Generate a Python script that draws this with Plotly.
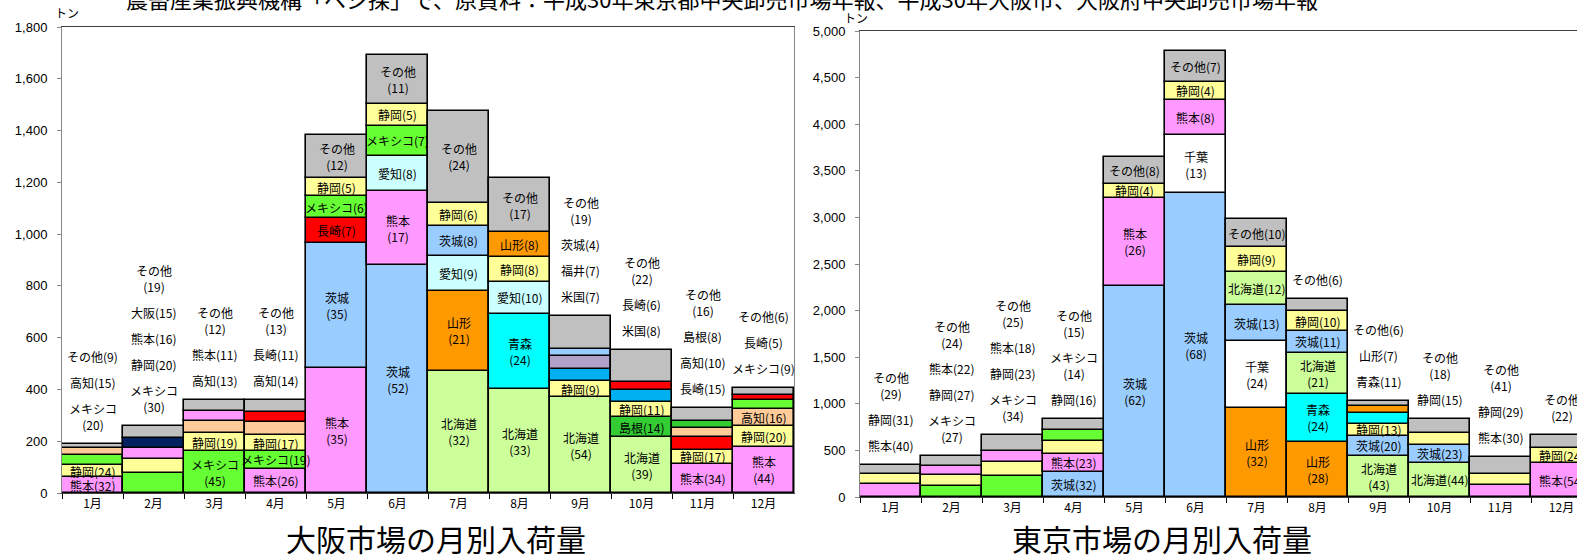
import plotly.graph_objects as go

W, H = 1577, 555

months = ["1月", "2月", "3月", "4月", "5月", "6月", "7月", "8月", "9月", "10月", "11月", "12月"]

origin_colors = {
    "熊本": "#FF99FF", "静岡": "#FFFF99", "メキシコ": "#66FF33", "高知": "#FFCC99",
    "その他": "#C0C0C0", "大阪": "#002060", "長崎": "#FF0000", "茨城": "#99CCFF",
    "愛知": "#CCFFFF", "北海道": "#CCFF99", "山形": "#FF9900", "青森": "#00FFFF",
    "米国": "#00B0F0", "福井": "#B1A0C7", "島根": "#33CC33", "千葉": "#FFFFFF",
}

# ---- Osaka market (tonnes, stacked bottom -> top) ----
osaka_origins = [
    ["熊本", "静岡", "メキシコ", "高知", "その他"],
    ["メキシコ", "静岡", "熊本", "大阪", "その他"],
    ["メキシコ", "静岡", "高知", "熊本", "その他"],
    ["熊本", "メキシコ", "静岡", "高知", "長崎", "その他"],
    ["熊本", "茨城", "長崎", "メキシコ", "静岡", "その他"],
    ["茨城", "熊本", "愛知", "メキシコ", "静岡", "その他"],
    ["北海道", "山形", "愛知", "茨城", "静岡", "その他"],
    ["北海道", "青森", "愛知", "静岡", "山形", "その他"],
    ["北海道", "静岡", "米国", "福井", "茨城", "その他"],
    ["北海道", "島根", "静岡", "米国", "長崎", "その他"],
    ["熊本", "静岡", "長崎", "高知", "島根", "その他"],
    ["熊本", "静岡", "高知", "メキシコ", "長崎", "その他"],
]
osaka_tonnes = [
    [61, 46, 38, 28, 17],
    [78, 52, 42, 39, 49],
    [162, 68, 47, 40, 43],
    [94, 68, 61, 50, 40, 47],
    [483, 483, 97, 83, 69, 166],
    [879, 287, 135, 118, 85, 186],
    [472, 310, 133, 118, 89, 354],
    [401, 292, 122, 97, 97, 206],
    [370, 62, 48, 48, 27, 130],
    [215, 77, 61, 44, 33, 121],
    [112, 56, 50, 33, 26, 53],
    [178, 81, 65, 36, 20, 24],
]
osaka_shares = [
    [32, 24, 20, 15, 9],
    [30, 20, 16, 15, 19],
    [45, 19, 13, 11, 12],
    [26, 19, 17, 14, 11, 13],
    [35, 35, 7, 6, 5, 12],
    [52, 17, 8, 7, 5, 11],
    [32, 21, 9, 8, 6, 24],
    [33, 24, 10, 8, 8, 17],
    [54, 9, 7, 7, 4, 19],
    [39, 14, 11, 8, 6, 22],
    [34, 17, 15, 10, 8, 16],
    [44, 20, 16, 9, 5, 6],
]
osaka_inside = [2, 0, 2, 3, 6, 6, 6, 6, 2, 3, 2, 3]

# ---- Tokyo market ----
tokyo_origins = [
    ["熊本", "静岡", "その他"],
    ["メキシコ", "静岡", "熊本", "その他"],
    ["メキシコ", "静岡", "熊本", "その他"],
    ["茨城", "熊本", "静岡", "メキシコ", "その他"],
    ["茨城", "熊本", "静岡", "その他"],
    ["茨城", "千葉", "熊本", "静岡", "その他"],
    ["山形", "千葉", "茨城", "北海道", "静岡", "その他"],
    ["山形", "青森", "北海道", "茨城", "静岡", "その他"],
    ["北海道", "茨城", "静岡", "青森", "山形", "その他"],
    ["北海道", "茨城", "静岡", "その他"],
    ["熊本", "静岡", "その他"],
    ["熊本", "静岡", "その他"],
]
tokyo_tonnes = [
    [138, 107, 100],
    [120, 120, 97, 106],
    [225, 152, 119, 166],
    [269, 193, 134, 118, 126],
    [2263, 949, 146, 292],
    [3257, 623, 383, 192, 335],
    [954, 715, 387, 358, 268, 298],
    [594, 509, 445, 233, 212, 127],
    [445, 207, 135, 114, 72, 62],
    [367, 192, 125, 150],
    [128, 123, 174],
    [362, 161, 147],
]
tokyo_shares = [
    [40, 31, 29],
    [27, 27, 22, 24],
    [34, 23, 18, 25],
    [32, 23, 16, 14, 15],
    [62, 26, 4, 8],
    [68, 13, 8, 4, 7],
    [32, 24, 13, 12, 9, 10],
    [28, 24, 21, 11, 10, 6],
    [43, 20, 13, 11, 7, 6],
    [44, 23, 15, 18],
    [30, 29, 41],
    [54, 24, 22],
]
tokyo_inside = [0, 0, 0, 2, 4, 5, 6, 5, 3, 2, 0, 2]

osaka_ymax, tokyo_ymax = 1800, 5000

# plot-area geometry (pixels)
OS_L, OS_R, OS_T, OS_B = 62, 794, 27, 493
TK_L, TK_T, TK_B = 860, 31, 497
TK_BAR = (OS_R - OS_L) / 12.0

CJK = "Noto Sans CJK JP"
LBL = dict(family=CJK, size=12, color="black")

fig = go.Figure()


def add_market(origins, tonnes, shares, inside, xa, ya, px_per_t):
    nlayers = max(len(o) for o in origins)
    for k in range(nlayers):
        xs, ys, bs, cs = [], [], [], []
        for m in range(12):
            if k < len(origins[m]):
                xs.append(months[m])
                ys.append(tonnes[m][k])
                bs.append(sum(tonnes[m][:k]))
                cs.append(origin_colors[origins[m][k]])
        fig.add_trace(go.Bar(
            x=xs, y=ys, base=bs, xaxis=xa, yaxis=ya, showlegend=False,
            hoverinfo="skip",
            marker=dict(color=cs, line=dict(color="black", width=1.6)),
        ))
    for m in range(12):
        total = sum(tonnes[m])
        cursor = 9
        for k, (o, v, s) in enumerate(zip(origins[m], tonnes[m], shares[m])):
            if k < inside[m]:
                two = v * px_per_t > 39
                text = f"{o}<br>({s})" if two else f"{o}({s})"
                fig.add_annotation(x=months[m], y=sum(tonnes[m][:k]) + v / 2,
                                   xref=xa, yref=ya, text=text, showarrow=False,
                                   xanchor="center", yanchor="middle", font=LBL)
            else:
                two = len(o) >= 3 and s >= 10
                text = f"{o}<br>({s})" if two else f"{o}({s})"
                fig.add_annotation(x=months[m], y=total, xref=xa, yref=ya,
                                   text=text, showarrow=False, xanchor="center",
                                   yanchor="bottom", yshift=cursor, font=LBL)
                cursor += (2 if two else 1) * 16 + 10


add_market(osaka_origins, osaka_tonnes, osaka_shares, osaka_inside, "x", "y",
           (OS_B - OS_T) / osaka_ymax)
add_market(tokyo_origins, tokyo_tonnes, tokyo_shares, tokyo_inside, "x2", "y2",
           (TK_B - TK_T) / tokyo_ymax)

tk_right = 11.5 - ((TK_L + 12 * TK_BAR) - W) / TK_BAR

xcommon = dict(type="category", tickson="boundaries", ticks="outside", ticklen=5,
               tickcolor="black", showline=True, linecolor="#404040", linewidth=1,
               showgrid=False, automargin=False,
               tickfont=dict(family=CJK, size=12, color="black"), fixedrange=True)
ycommon = dict(ticks="outside", ticklen=4, tickcolor="#868686", showline=True,
               linecolor="#868686", linewidth=1, showgrid=False, zeroline=False,
               automargin=False, fixedrange=True, tickformat=",",
               ticklabelstandoff=7,
               tickfont=dict(family="Liberation Sans", size=13, color="black"))

fig.update_layout(
    width=W, height=H, autosize=False,
    margin=dict(l=0, r=0, t=0, b=0, pad=0, autoexpand=False),
    paper_bgcolor="white", plot_bgcolor="white",
    barmode="overlay", bargap=0, showlegend=False,
    xaxis=dict(domain=[OS_L / W, OS_R / W], anchor="y", range=[-0.5, 11.5],
               mirror=True, categoryorder="array", categoryarray=months, **xcommon),
    yaxis=dict(domain=[(H - OS_B) / H, (H - OS_T) / H], anchor="x",
               range=[0, osaka_ymax], dtick=200, mirror=True, **ycommon),
    xaxis2=dict(domain=[TK_L / W, 1.0], anchor="y2", range=[-0.5, tk_right],
                mirror=True, categoryorder="array", categoryarray=months, **xcommon),
    yaxis2=dict(domain=[(H - TK_B) / H, (H - TK_T) / H], anchor="x2",
                range=[0, tokyo_ymax], dtick=500, mirror=False, **ycommon),
)

# titles and units
for txt, cx in (("大阪市場の月別入荷量", 436), ("東京市場の月別入荷量", 1162)):
    fig.add_annotation(xref="paper", yref="paper", x=cx / W, y=(H - 538) / H,
                       xanchor="center", yanchor="middle", text=txt, showarrow=False,
                       font=dict(family=CJK, size=30, color="black"))
for cx, cy in ((67, 12), (856, 17)):
    fig.add_annotation(xref="paper", yref="paper", x=cx / W, y=(H - cy) / H,
                       xanchor="center", yanchor="middle", text="トン", showarrow=False,
                       font=dict(family=CJK, size=12, color="black"))
fig.add_annotation(xref="paper", yref="paper", x=722 / W, y=1.0,
                   xanchor="center", yanchor="middle", yshift=2,
                   text="農畜産業振興機構「ベジ探」で、原資料：平成30年東京都中央卸売市場年報、平成30年大阪市、大阪府中央卸売市場年報",
                   showarrow=False, font=dict(family=CJK, size=22, color="black"))

fig.write_html("out.html", config={"displayModeBar": False},
               post_script="document.body.style.margin='0';document.body.style.overflow='hidden';")
